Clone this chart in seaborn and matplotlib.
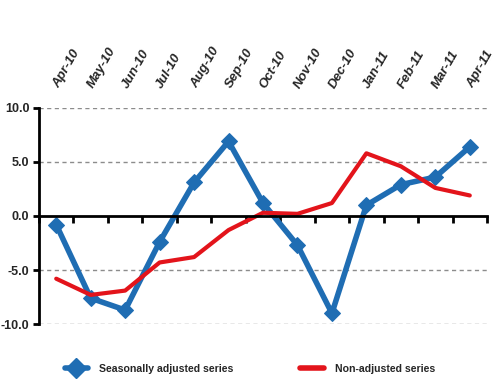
import numpy as np
import pandas as pd
import matplotlib
matplotlib.use("Agg")
import matplotlib.pyplot as plt
from matplotlib.lines import Line2D
from matplotlib.legend_handler import HandlerLine2D
import seaborn as sns

# ================= DATA =================
months = ["Apr-10", "May-10", "Jun-10", "Jul-10", "Aug-10", "Sep-10", "Oct-10",
          "Nov-10", "Dec-10", "Jan-11", "Feb-11", "Mar-11", "Apr-11"]
seasonally_adjusted = [-0.8, -7.6, -8.7, -2.4, 3.1, 6.9, 1.2, -2.7, -9.0, 1.0, 2.9, 3.6, 6.4]
non_adjusted = [-5.8, -7.3, -6.9, -4.3, -3.8, -1.3, 0.3, 0.2, 1.2, 5.8, 4.6, 2.6, 1.9]
y_ticks = [-10.0, -5.0, 0.0, 5.0, 10.0]

df = pd.DataFrame({
    "pos": np.arange(len(months)),
    "Seasonally adjusted series": seasonally_adjusted,
    "Non-adjusted series": non_adjusted,
})

# ================= STYLE =================
sns.set_style("white")
plt.rcParams["font.family"] = ["Liberation Sans", "DejaVu Sans"]

BLUE = "#1f6db3"
RED = "#e3141b"

fig = plt.figure(figsize=(5, 3.84), dpi=100)
ax = fig.add_axes([0.078, 0.156, 0.896, 0.563])

sns.lineplot(data=df, x="pos", y="Seasonally adjusted series", ax=ax,
             color=BLUE, linewidth=4, marker="D", markersize=8,
             markeredgecolor=BLUE, legend=False)
sns.lineplot(data=df, x="pos", y="Non-adjusted series", ax=ax,
             color=RED, linewidth=3, legend=False)

ax.set_xlim(-0.5, len(months) - 0.5)
ax.set_ylim(-10, 10)
ax.set_xlabel("")
ax.set_ylabel("")

# spines first (set_position resets the ticks)
ax.spines["top"].set_visible(False)
ax.spines["right"].set_visible(False)
ax.spines["bottom"].set_position(("data", 0))
ax.spines["bottom"].set_linewidth(2)
ax.spines["bottom"].set_color("black")
ax.spines["left"].set_linewidth(2)
ax.spines["left"].set_color("black")

# ================= AXES =================
ax.set_yticks(y_ticks)
ax.set_yticklabels([f"{v:.1f}" for v in y_ticks], fontsize=9, fontweight="bold")
for v in y_ticks:
    if v != 0:
        ax.axhline(v, color="#8c8c8c", linestyle=(0, (3, 2.5)), linewidth=1, zorder=0)

ax.set_xticks(np.arange(len(months)))
ax.set_xticks(np.arange(len(months) + 1) - 0.5, minor=True)
ax.tick_params(axis="x", which="major", top=True, bottom=False,
               labeltop=True, labelbottom=False, length=0, pad=15)
ax.tick_params(axis="x", which="minor", top=False, bottom=True,
               direction="out", length=5, width=2, color="black")
ax.tick_params(axis="y", direction="out", length=4, width=2, color="black", left=True, pad=3)
ax.set_xticklabels(months, rotation=60, ha="left", va="center", rotation_mode="anchor",
                   fontsize=9.5, fontweight="bold", fontstyle="italic")


# ================= LEGEND =================
class LeftMarker(HandlerLine2D):
    # put the legend marker at the left end of the line
    def get_xdata(self, legend, xdescent, ydescent, width, height, fontsize):
        xdata, _ = super().get_xdata(legend, xdescent, ydescent, width, height, fontsize)
        return xdata, np.array([xdata[0] + 2])


handles = [
    Line2D([], [], color=BLUE, linewidth=4, marker="D", markersize=10),
    Line2D([], [], color=RED, linewidth=4),
]
labels = ["Seasonally adjusted series", "Non-adjusted series"]
fig.legend(handles, labels, loc="center", bbox_to_anchor=(0.5, 0.04), ncol=2,
           frameon=False, handlelength=2.2, handletextpad=1.1, columnspacing=6.3,
           numpoints=1, handler_map={handles[0]: LeftMarker()},
           prop={"weight": "bold", "size": 7.6})

fig.savefig("out.png", dpi=100)
plt.close()
